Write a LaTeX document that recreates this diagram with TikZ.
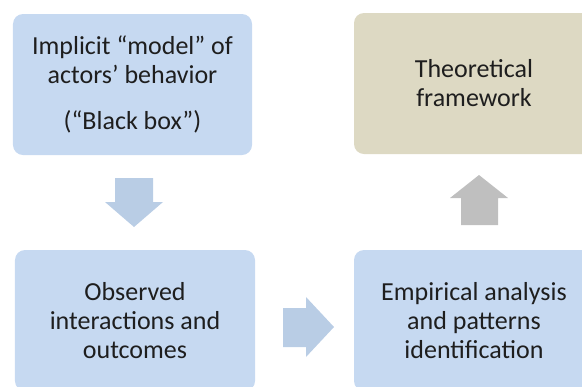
\documentclass[tikz,border=0pt]{standalone}
\usepackage{fontspec}
\setmainfont{Carlito}
\definecolor{boxblue}{HTML}{C6D9F1}
\definecolor{arrblue}{HTML}{B9CDE5}
\definecolor{boxbeige}{HTML}{DDD9C3}
\definecolor{arrgrey}{HTML}{BFBFBF}
\definecolor{txt}{HTML}{1E1E1E}
\tikzset{
  stepbox/.style={rounded corners=10bp, inner sep=0pt, minimum width=240bp, minimum height=141bp,
    align=center, text=txt, font=\fontsize{26bp}{29bp}\selectfont}
}
\begin{document}
\begin{tikzpicture}[x=1bp,y=-1bp]
\useasboundingbox (0,0) rectangle (582,386);
\clip (0,0) rectangle (582,386);
\node[stepbox, fill=boxblue, minimum width=239bp] (model) at (132.5,84.5) {Implicit “model” of\\actors’ behavior\\[17bp](“Black box”)};
\node[stepbox, fill=boxbeige] (theory) at (474,83.5) {Theoretical\\framework};
\node[stepbox, fill=boxblue] (observed) at (135,320.5) {Observed\\interactions and\\outcomes};
\node[stepbox, fill=boxblue] (empirical) at (474,320.5) {Empirical analysis\\and patterns\\identification};
% block arrows
\fill[arrblue] (115,178) -- (153,178) -- (153,202) -- (163,202) -- (134,227) -- (105,202) -- (115,202) -- cycle;
\fill[arrblue] (283,308) -- (306,308) -- (306,297) -- (334,327) -- (306,357) -- (306,347) -- (283,347) -- cycle;
\fill[arrgrey] (461,225) -- (461,198) -- (450,198) -- (479,175) -- (508,198) -- (498,198) -- (498,225) -- cycle;
\end{tikzpicture}
\end{document}
